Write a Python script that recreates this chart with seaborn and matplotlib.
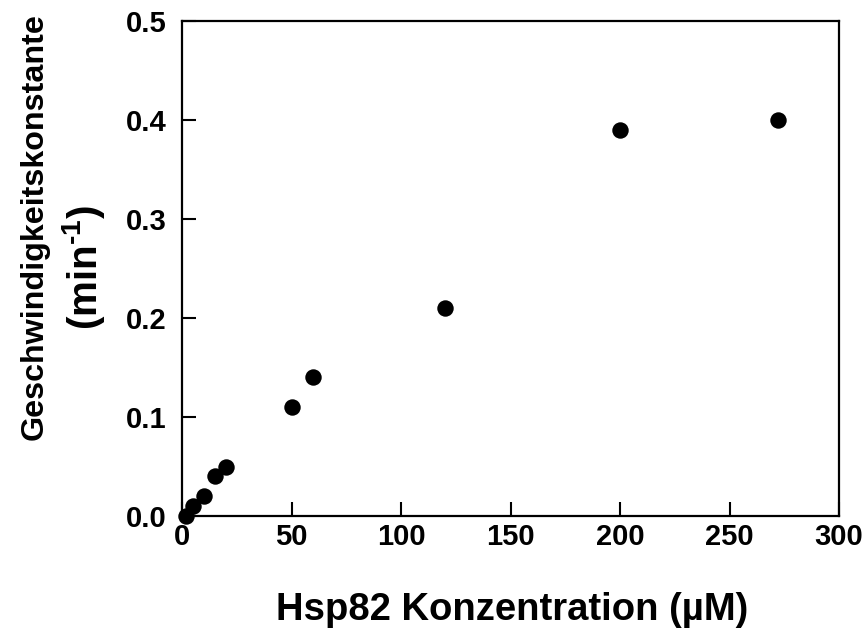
import matplotlib
matplotlib.use("Agg")
import matplotlib.pyplot as plt
import seaborn as sns
import pandas as pd

conc = [2, 5, 10, 15, 20, 50, 60, 120, 200, 272]
rate = [0.0, 0.01, 0.02, 0.04, 0.05, 0.11, 0.14, 0.21, 0.39, 0.40]
x_ticks = [0, 50, 100, 150, 200, 250, 300]
y_ticks = [0.0, 0.1, 0.2, 0.3, 0.4, 0.5]
x_label = "Hsp82 Konzentration (µM)"
y_label_1 = "Geschwindigkeitskonstante"
y_label_2 = "(min$^{\\text{-1}}$)"

sns.set_style("ticks")
plt.rcParams['font.family'] = ['Liberation Sans', 'DejaVu Sans']
plt.rcParams['mathtext.fontset'] = 'custom'
plt.rcParams['mathtext.rm'] = 'Liberation Sans:bold'
plt.rcParams['mathtext.bf'] = 'Liberation Sans:bold'
plt.rcParams['mathtext.it'] = 'Liberation Sans:bold'
plt.rcParams['mathtext.default'] = 'bf'
for k in ['text.color', 'axes.labelcolor', 'xtick.color', 'ytick.color']:
    plt.rcParams[k] = 'black'

W, H = 868, 628
df = pd.DataFrame({"conc": conc, "rate": rate})
fig = plt.figure(figsize=(W / 100, H / 100), dpi=100)
ax = fig.add_axes([182 / W, 1 - 516 / H, 657 / W, 495 / H])
sns.scatterplot(data=df, x="conc", y="rate", ax=ax, color="black", s=140,
                edgecolor="black", linewidth=0, zorder=3, clip_on=False)
ax.set_xlim(0, 300)
ax.set_ylim(0, 0.5)
ax.set_xticks(x_ticks)
ax.set_yticks(y_ticks)
ax.set_xticklabels([str(v) for v in x_ticks], fontsize=21, fontweight='bold')
ax.set_yticklabels([f"{v:.1f}" for v in y_ticks], fontsize=21, fontweight='bold')
ax.tick_params(axis='both', direction='in', length=10, width=1.5, colors='black')
ax.tick_params(axis='y', pad=11)
ax.tick_params(axis='x', pad=5)
for sp in ax.spines.values():
    sp.set_visible(True)
    sp.set_linewidth(1.6)
    sp.set_color('black')

ax.set_xlabel(x_label, fontsize=27.5, fontweight='bold', va='baseline')
ax.xaxis.set_label_coords((512.5 - 182) / 657, (516 - 620) / 495)
ax.set_ylabel("")

t1 = fig.text(43 / W, 1 - 226.5 / H, y_label_1, rotation=90, rotation_mode='anchor',
              ha='center', va='baseline', fontsize=27, fontweight='bold',
              family=['Liberation Sans Narrow', 'Liberation Sans', 'DejaVu Sans'])
t2 = fig.text(97 / W, 1 - 267.5 / H, y_label_2, rotation=90, rotation_mode='anchor',
              ha='center', va='baseline', fontsize=29, fontweight='bold')
fig.canvas.draw()
r = fig.canvas.get_renderer()
h1 = t1.get_window_extent(r).height
t1.set_fontsize(27 * 427 / h1)

fig.savefig("out.png", dpi=100)
